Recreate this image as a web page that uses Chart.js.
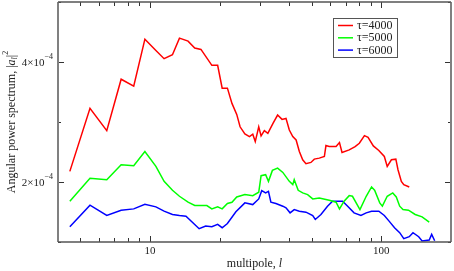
<!DOCTYPE html>
<html><head><meta charset="utf-8">
<script src="https://cdn.jsdelivr.net/npm/chart.js@4/dist/chart.umd.min.js"></script>
<style>html,body{margin:0;padding:0;background:#fff}</style>
</head><body>
<canvas id="c" width="454" height="271"></canvas>
<script>
// multipole l and angular power spectrum values
const lRed = [4.5,5.5,6.5,7.5,8.5,9.5,10.6,11.5,12.5,13.4,14.6,15.6,16.6,18.5,19.6,20.5,21.6,22.6,23.7,24.5,25.7,26.9,27.8,28.5,29.5,30.2,31.2,32.3,34.0,35.6,37.2,38.7,40.0,41.4,42.8,44.2,45.7,47.2,49.6,51.3,53.9,56.7,57.6,59.5,63.7,65.9,67.6,72.6,77.0,80.3,84.5,87.6,92.3,97.5,103,106,110.5,115.5,118,122,125,132];
const vRed = [2.177e-4,3.227e-4,2.856e-4,3.713e-4,3.597e-4,4.381e-4,4.193e-4,4.055e-4,4.12e-4,4.398e-4,4.348e-4,4.232e-4,4.21e-4,3.945e-4,3.945e-4,3.564e-4,3.564e-4,3.31e-4,3.127e-4,2.92e-4,2.80e-4,2.757e-4,2.796e-4,2.674e-4,2.92e-4,2.768e-4,2.856e-4,2.812e-4,2.978e-4,3.116e-4,3.044e-4,3.06e-4,2.867e-4,2.757e-4,2.70e-4,2.508e-4,2.37e-4,2.304e-4,2.326e-4,2.381e-4,2.398e-4,2.425e-4,2.608e-4,2.591e-4,2.591e-4,2.657e-4,2.492e-4,2.536e-4,2.591e-4,2.646e-4,2.773e-4,2.746e-4,2.602e-4,2.525e-4,2.425e-4,2.26e-4,2.37e-4,2.381e-4,2.205e-4,2.011e-4,1.956e-4,1.917e-4];

const lGreen = [4.5,5.5,6.5,7.5,8.5,9.5,10.6,11.5,12.5,13.4,14.6,15.6,16.6,17.6,18.5,19.6,20.5,21.6,22.6,23.7,25.7,27.8,29.5,30.2,31.6,32.5,33.8,35.6,37.5,40.0,41.4,42.0,43.7,45.7,48.0,50.5,53.9,59.5,63.7,65.9,69.0,72.6,75,80.8,86,90.7,93.5,98.4,101,106,112,116,120,124,131,140,150,161];
const vGreen = [1.68e-4,2.061e-4,2.039e-4,2.287e-4,2.271e-4,2.508e-4,2.26e-4,2.011e-4,1.862e-4,1.762e-4,1.663e-4,1.608e-4,1.608e-4,1.608e-4,1.552e-4,1.586e-4,1.552e-4,1.641e-4,1.663e-4,1.751e-4,1.79e-4,1.773e-4,1.829e-4,2.105e-4,2.122e-4,2.011e-4,2.193e-4,2.232e-4,2.16e-4,2.011e-4,1.956e-4,2.039e-4,1.862e-4,1.818e-4,1.79e-4,1.718e-4,1.735e-4,1.696e-4,1.663e-4,1.552e-4,1.68e-4,1.773e-4,1.762e-4,1.541e-4,1.762e-4,1.917e-4,1.862e-4,1.652e-4,1.597e-4,1.762e-4,1.818e-4,1.751e-4,1.597e-4,1.541e-4,1.53e-4,1.459e-4,1.42e-4,1.331e-4];

const lBlue = [4.5,5.5,6.5,7.5,8.5,9.5,10.6,11.5,12.5,13.4,14.3,15.6,16.3,17.4,18.5,19.6,20.5,21.6,23.5,25.7,27.8,29.5,30.4,31.6,32.5,33.3,35.0,37.5,38.7,40.3,42,44.2,47.2,50.5,51.8,54.8,58.5,61.5,65.9,68,71.5,76.2,81.6,86,90.7,97.5,103,108,114,120,125,132,137,145,150,161,165,170];
const vBlue = [1.254e-4,1.613e-4,1.442e-4,1.53e-4,1.552e-4,1.63e-4,1.586e-4,1.514e-4,1.459e-4,1.442e-4,1.431e-4,1.293e-4,1.221e-4,1.265e-4,1.254e-4,1.293e-4,1.238e-4,1.309e-4,1.503e-4,1.652e-4,1.624e-4,1.718e-4,1.856e-4,1.818e-4,1.845e-4,1.663e-4,1.641e-4,1.597e-4,1.569e-4,1.486e-4,1.541e-4,1.514e-4,1.497e-4,1.442e-4,1.376e-4,1.459e-4,1.597e-4,1.68e-4,1.68e-4,1.68e-4,1.597e-4,1.486e-4,1.442e-4,1.486e-4,1.514e-4,1.514e-4,1.442e-4,1.348e-4,1.238e-4,1.155e-4,1.055e-4,1.088e-4,1.155e-4,1.088e-4,1.017e-4,1.033e-4,1.127e-4,1.02e-4];

const seriesLabels = ['\u03c4=4000','\u03c4=5000','\u03c4=6000'];
const seriesColors = ['#ff0000','#00ff00','#0000ff'];

const xTicks = [4,5,6,7,8,9,10,20,30,40,50,60,70,80,90,100,200];
const xLabelTicks = [10,100];
const yTicks = [1e-4,2e-4,3e-4,4e-4,5e-4];
const yLabelTicks = [[2e-4,'2'],[4e-4,'4']];

function pts(ls, vs){ return ls.map((l,i)=>({x:l,y:vs[i]})); }

const SERIF = '"Liberation Serif","DejaVu Serif",serif';

const decor = {
  id:'decor',
  afterDraw(chart){
    const {ctx, chartArea:a, scales:{x,y}} = chart;
    ctx.save();
    // inward ticks
    ctx.strokeStyle='#333'; ctx.lineWidth=1;
    xTicks.forEach(v=>{
      const p=Math.round(x.getPixelForValue(v))+0.5;
      const major = (v===10||v===100);
      const len = major?6:4;
      ctx.beginPath(); ctx.moveTo(p,a.bottom); ctx.lineTo(p,a.bottom-len);
      ctx.moveTo(p,a.top); ctx.lineTo(p,a.top+len); ctx.stroke();
    });
    yTicks.forEach(v=>{
      const p=Math.round(y.getPixelForValue(v))+0.5;
      const major = (Math.abs(v-2e-4)<1e-9||Math.abs(v-4e-4)<1e-9);
      const len = major?6:3;
      ctx.beginPath(); ctx.moveTo(a.left,p); ctx.lineTo(a.left+len,p);
      ctx.moveTo(a.right,p); ctx.lineTo(a.right-len,p); ctx.stroke();
    });
    // frame
    ctx.strokeStyle='#808080'; ctx.lineWidth=2;
    ctx.beginPath(); ctx.moveTo(a.left,a.top); ctx.lineTo(a.left,a.bottom);
    ctx.moveTo(a.right,a.top); ctx.lineTo(a.right,a.bottom); ctx.stroke();
    ctx.strokeStyle='#555'; ctx.lineWidth=1.5;
    ctx.beginPath(); ctx.moveTo(a.left,a.top); ctx.lineTo(a.right,a.top);
    ctx.moveTo(a.left,a.bottom); ctx.lineTo(a.right,a.bottom); ctx.stroke();
    // x tick labels
    ctx.fillStyle='#222';
    ctx.font='11px '+SERIF; ctx.textAlign='center'; ctx.textBaseline='middle';
    xLabelTicks.forEach(v=>{ ctx.fillText(String(v), x.getPixelForValue(v), a.bottom+9); });
    // y tick labels  d×10^-4
    yLabelTicks.forEach(([v,d])=>{
      const p=y.getPixelForValue(v);
      ctx.font='8px '+SERIF; ctx.textAlign='right'; ctx.textBaseline='middle';
      const sup='\u22124';
      const sw=ctx.measureText(sup).width;
      const rx=a.left-5;
      ctx.fillText(sup, rx, p-5);
      ctx.font='11px '+SERIF;
      ctx.fillText(d+'\u00d710', rx-sw, p+1);
    });
    // x title
    ctx.font='12px '+SERIF; ctx.textBaseline='middle'; ctx.textAlign='left';
    const t1='multipole, ', t2='l';
    const w1=ctx.measureText(t1).width;
    ctx.font='italic 12px '+SERIF;
    const w2=ctx.measureText(t2).width;
    let sx=(a.left+a.right)/2-(w1+w2)/2;
    ctx.font='12px '+SERIF; ctx.fillText(t1,sx,264);
    ctx.font='italic 12px '+SERIF; ctx.fillText(t2,sx+w1,264);
    // y title rotated
    ctx.save();
    ctx.translate(12,(a.top+a.bottom)/2);
    ctx.rotate(-Math.PI/2);
    const parts=[['Angular power spectrum, |','12px',0],['a','italic 12px',0],['l','italic 8px',3],['|','12px',0],['2','8px',-6]];
    let tw=0; parts.forEach(([s,f])=>{ctx.font=f+' '+SERIF; tw+=ctx.measureText(s).width;});
    let cx=-tw/2;
    ctx.textAlign='left'; ctx.textBaseline='middle';
    parts.forEach(([s,f,dy])=>{ctx.font=f+' '+SERIF; ctx.fillText(s,cx,dy); cx+=ctx.measureText(s).width;});
    ctx.restore();
    // legend
    const lx=333, ly=18, lw=64, lh=39;
    ctx.fillStyle='#fff'; ctx.fillRect(lx,ly,lw,lh);
    ctx.strokeStyle='#555'; ctx.lineWidth=1;
    ctx.strokeRect(lx+0.5,ly+0.5,lw,lh);
    chart.data.datasets.forEach((ds,i)=>{
      const yy=ly+7.5+i*12.3;
      ctx.strokeStyle=ds.borderColor; ctx.lineWidth=1.5;
      ctx.beginPath(); ctx.moveTo(lx+5,yy); ctx.lineTo(lx+20,yy); ctx.stroke();
      ctx.fillStyle='#222'; ctx.font='12px '+SERIF; ctx.textAlign='left'; ctx.textBaseline='middle';
      ctx.fillText(ds.label, lx+24, yy+0.5);
    });
    ctx.restore();
  }
};

new Chart(document.getElementById('c'), {
  type:'line',
  data:{ datasets:[
    {label:seriesLabels[0], data:pts(lRed,vRed), borderColor:seriesColors[0]},
    {label:seriesLabels[1], data:pts(lGreen,vGreen), borderColor:seriesColors[1]},
    {label:seriesLabels[2], data:pts(lBlue,vBlue), borderColor:seriesColors[2]}
  ]},
  options:{
    responsive:false, animation:false, devicePixelRatio:1,
    elements:{ line:{borderWidth:1.5, tension:0}, point:{radius:0} },
    layout:{ padding:{top:2,right:3,left:0,bottom:0} },
    plugins:{ legend:{display:false}, tooltip:{enabled:false} },
    scales:{
      x:{ type:'logarithmic', min:4, max:200, grid:{display:false}, border:{display:false},
          ticks:{display:false}, afterFit(s){ s.height=29; } },
      y:{ type:'linear', min:1e-4, max:5e-4, grid:{display:false}, border:{display:false},
          ticks:{display:false}, afterFit(s){ s.width=58; } }
    }
  },
  plugins:[decor]
});
</script>
</body></html>
